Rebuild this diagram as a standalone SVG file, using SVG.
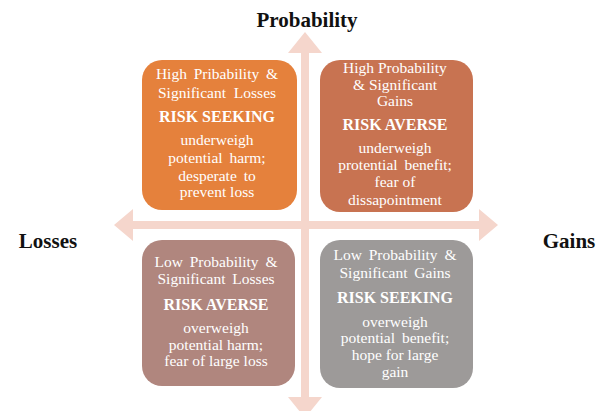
<svg xmlns="http://www.w3.org/2000/svg" width="603" height="411" viewBox="0 0 603 411">
<style>
.box{stroke:none}
.t{font-family:"Liberation Serif","Times New Roman",serif;font-size:15.5px;fill:#ffffff;text-anchor:middle}
.b{font-family:"Liberation Serif","Times New Roman",serif;font-size:16px;font-weight:bold;fill:#ffffff;text-anchor:middle}
.ax{font-family:"Liberation Serif","Times New Roman",serif;font-size:21px;font-weight:bold;fill:#111111;text-anchor:middle}
.arr{fill:#F5D6CC}
</style>
<rect width="603" height="411" fill="#ffffff"/>
<g id="connectors">
  <polygon class="arr" points="305,32 322,53 309,53 309,397 322,397 305,418 288,397 301,397 301,53 288,53"/>
  <polygon class="arr" points="114,225 133,209 133,221 479,221 479,209 498,225 479,241 479,229 133,229 133,241"/>
</g>
<g id="axis-probability"><text class="ax" x="307" y="27">Probability</text></g>
<g id="axis-losses"><text class="ax" x="48" y="248">Losses</text></g>
<g id="axis-gains"><text class="ax" x="569" y="248">Gains</text></g>
<g id="q-high-losses">
  <rect class="box" x="142" y="60" width="155" height="150" rx="20" fill="#E5813C"/>
  <text class="t" x="217" y="79" word-spacing="3">High Pribability &amp;</text>
  <text class="t" x="217" y="98" word-spacing="4">Significant Losses</text>
  <text class="b" x="217" y="122">RISK SEEKING</text>
  <text class="t" x="217" y="145">underweigh</text>
  <text class="t" x="217" y="163" word-spacing="3">potential harm;</text>
  <text class="t" x="217" y="181" word-spacing="3">desperate to</text>
  <text class="t" x="217" y="197">prevent loss</text>
</g>
<g id="q-high-gains">
  <rect class="box" x="320" y="60" width="153" height="152" rx="20" fill="#C87351"/>
  <text class="t" x="395" y="73">High Probability</text>
  <text class="t" x="395" y="90">&amp; Significant</text>
  <text class="t" x="395" y="106">Gains</text>
  <text class="b" x="395" y="130">RISK AVERSE</text>
  <text class="t" x="395" y="153">underweigh</text>
  <text class="t" x="395" y="170" word-spacing="3">protential benefit;</text>
  <text class="t" x="395" y="187">fear of</text>
  <text class="t" x="395" y="205">dissapointment</text>
</g>
<g id="q-low-losses">
  <rect class="box" x="142" y="240" width="153" height="146" rx="20" fill="#B0867E"/>
  <text class="t" x="216" y="267" word-spacing="3">Low Probability &amp;</text>
  <text class="t" x="216" y="284" word-spacing="3">Significant Losses</text>
  <text class="b" x="216" y="310">RISK AVERSE</text>
  <text class="t" x="216" y="333">overweigh</text>
  <text class="t" x="216" y="350">potential harm;</text>
  <text class="t" x="216" y="366">fear of large loss</text>
</g>
<g id="q-low-gains">
  <rect class="box" x="320" y="240" width="153" height="148" rx="20" fill="#9D9A99"/>
  <text class="t" x="395" y="260" word-spacing="3">Low Probability &amp;</text>
  <text class="t" x="395" y="278" word-spacing="3">Significant Gains</text>
  <text class="b" x="395" y="303">RISK SEEKING</text>
  <text class="t" x="395" y="327">overweigh</text>
  <text class="t" x="395" y="343" word-spacing="3">potential benefit;</text>
  <text class="t" x="395" y="360">hope for large</text>
  <text class="t" x="395" y="377">gain</text>
</g>
</svg>
